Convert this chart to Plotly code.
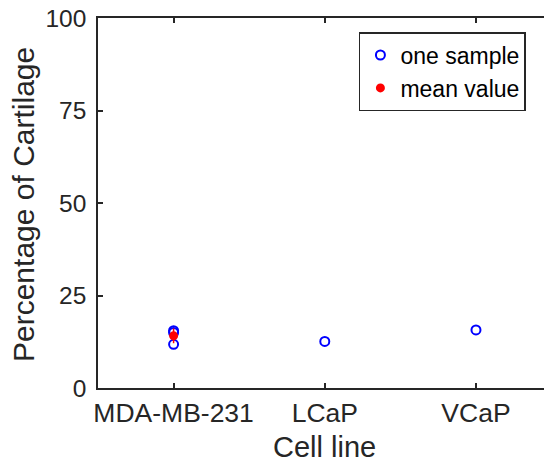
import plotly.graph_objects as go

# Data
categories = ["MDA-MB-231", "LCaP", "VCaP"]
cat_pos = [1, 2, 3]
sample_x = [1, 1, 1, 2, 3]
sample_y = [15.5, 15.0, 11.8, 12.6, 15.7]
mean_x = [1]
mean_y = [14.1]
mean_err = [2.0]
y_ticks = [0, 25, 50, 75, 100]

FONT = "Liberation Sans, Arial, Helvetica, sans-serif"
DARK = "#262626"

fig = go.Figure()
fig.add_trace(go.Scatter(
    x=sample_x, y=sample_y, mode="markers", name="one sample",
    marker=dict(symbol="circle-open", size=9, color="#0000ff",
                line=dict(width=2, color="#0000ff")),
))
fig.add_trace(go.Scatter(
    x=mean_x, y=mean_y, mode="markers", name="mean value",
    marker=dict(symbol="circle", size=9, color="#ff0000"),
    error_y=dict(type="data", array=mean_err, visible=True,
                 color="#ff0000", thickness=1.5, width=0),
))

fig.update_layout(
    width=544, height=467,
    margin=dict(l=98, r=0, t=18, b=79, autoexpand=False),
    paper_bgcolor="white", plot_bgcolor="white",
    font=dict(family=FONT, color=DARK, size=24),
    showlegend=True,
    legend=dict(
        x=0.585, y=0.962, xanchor="left", yanchor="top",
        bgcolor="white", bordercolor=DARK, borderwidth=1.5,
        font=dict(size=23, family=FONT, color="black"),
        itemwidth=30, tracegroupgap=0,
    ),
    xaxis=dict(
        range=[0.5, 3.45], tickmode="array", tickvals=cat_pos, ticktext=categories,
        showline=True, linecolor=DARK, linewidth=1.5, mirror="ticks",
        ticks="inside", ticklen=5, tickwidth=1.5, tickcolor=DARK,
        showgrid=False, zeroline=False, ticklabelstandoff=0, automargin=False,
        tickfont=dict(size=26.5, family=FONT, color=DARK),
    ),
    yaxis=dict(
        range=[0, 100], tickmode="array", tickvals=y_ticks,
        showline=True, linecolor=DARK, linewidth=1.5, mirror=False,
        ticks="inside", ticklen=5, tickwidth=1.5, tickcolor=DARK,
        showgrid=False, zeroline=False, ticklabelstandoff=5, automargin=False,
        ticklabeloverflow="allow",
        tickfont=dict(size=24.5, family=FONT, color=DARK),
    ),
    annotations=[
        dict(text="Cell line", x=2, xref="x", y=-(447 - 388) / 370.0, yref="paper",
             xanchor="center", yanchor="middle", showarrow=False,
             font=dict(size=29, family=FONT, color=DARK)),
        dict(text="Percentage of Cartilage", x=(24 - 98) / 446.0, xref="paper",
             y=(388 - 205) / 370.0, yref="paper", textangle=-90,
             xanchor="center", yanchor="middle", showarrow=False,
             font=dict(size=30, family=FONT, color=DARK)),
    ],
)

fig.write_html("out.html", config={"displayModeBar": False},
               post_script="document.body.style.margin='0';")
